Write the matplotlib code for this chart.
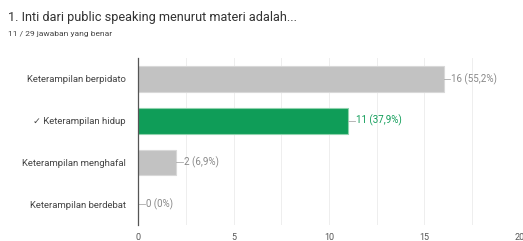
import matplotlib
matplotlib.use("Agg")
import matplotlib.pyplot as plt
from matplotlib.ticker import MultipleLocator

plt.rcParams['font.family'] = ['Roboto', 'DejaVu Sans']

title = "1. Inti dari public speaking menurut materi adalah..."
subtitle = "11 / 29 jawaban yang benar"
categories = ["Keterampilan berpidato", "\u2713 Keterampilan hidup",
              "Keterampilan menghafal", "Keterampilan berdebat"]
counts = [16, 11, 2, 0]
labels = ["16 (55,2%)", "11 (37,9%)", "2 (6,9%)", "0 (0%)"]
correct = [False, True, False, False]

grey = "#c2c2c2"
green = "#0f9d58"

fig = plt.figure(figsize=(5.23, 2.41), dpi=100)
ax = fig.add_axes([0.264, 0.066, 0.730, 0.693])

pos = list(range(len(categories)))
colors = [green if c else grey for c in correct]
edges = ["#8fd3ad" if c else "#d8d8d8" for c in correct]
ax.barh(pos, counts, height=0.62, color=colors, edgecolor=edges, linewidth=0.8, zorder=3)

for p, v, lab, c in zip(pos, counts, labels, correct):
    col = green if c else "#888888"
    ax.plot([v, v + 0.35], [p, p], color="#aaaaaa", lw=0.6, zorder=3)
    ax.text(v + 0.4, p, lab, va="center", ha="left", fontsize=7, color=col)

ax.set_xlim(0, 20)
ax.set_ylim(3.5, -0.5)
ax.set_yticks(pos)
ax.set_yticklabels(categories, fontsize=6.8, color="#444444")
ax.xaxis.set_major_locator(MultipleLocator(5))
ax.xaxis.set_minor_locator(MultipleLocator(2.5))
ax.tick_params(axis="x", labelsize=6.5, colors="#555555", length=0, pad=6)
ax.tick_params(axis="y", length=0, pad=9)
ax.tick_params(which="minor", length=0)
ax.grid(axis="x", which="both", color="#eeeeee", lw=0.7, zorder=0)
for s in ["top", "right", "bottom"]:
    ax.spines[s].set_visible(False)
ax.spines["left"].set_color("#555555")
ax.spines["left"].set_linewidth(0.9)
ax.spines["left"].set_zorder(4)

fig.text(8 / 523, 1 - 17 / 241, title, fontsize=9.15, color="#333333", va="center")
fig.text(8 / 523, 1 - 34 / 241, subtitle, fontsize=6, color="#444444", va="center")

fig.savefig("out.png", dpi=100)
